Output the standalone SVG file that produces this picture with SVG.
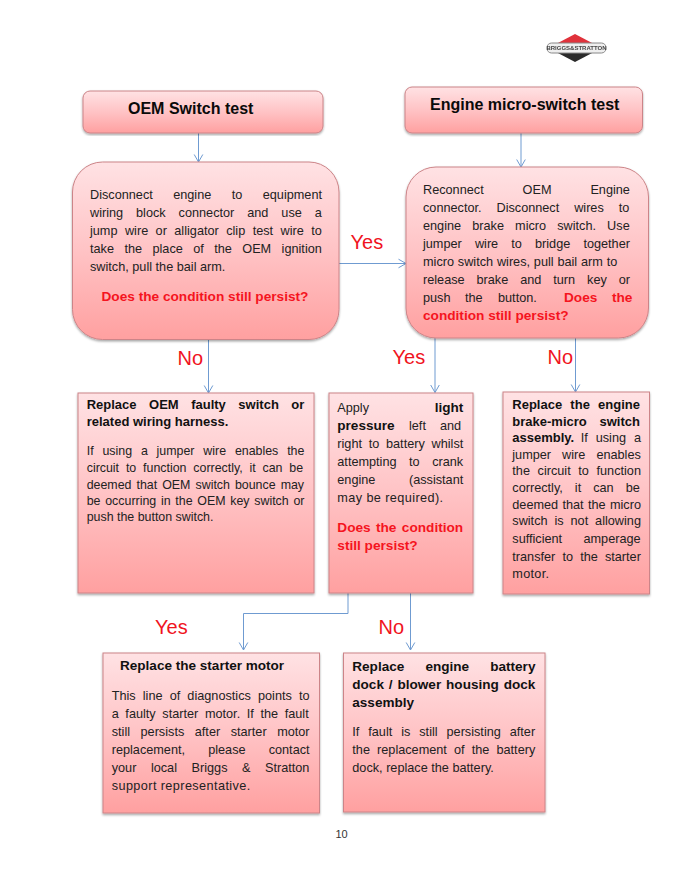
<svg xmlns="http://www.w3.org/2000/svg" width="685" height="892" viewBox="0 0 685 892">
<style>
text{font-family:"Liberation Sans",Arial,sans-serif;fill:#222;white-space:pre}
.r{font-size:12.7px}
.s{font-size:12.4px}
.b{font-size:13.55px;font-weight:bold;fill:#111}
.c{font-size:13px;font-weight:bold;fill:#111}
.q{font-size:13.65px;font-weight:bold;fill:#f5141e}
.h{font-size:16px;font-weight:bold;fill:#0a0a0a}
.l{font-size:20px;fill:#f0141e}
.box{fill:url(#g);stroke:#cc8488;stroke-width:1;filter:url(#sh)}
.con{fill:none;stroke:#6f9bd1;stroke-width:1}
.arr{marker-end:url(#a)}
</style>
<defs>
<linearGradient id="g" x1="0" y1="0" x2="0" y2="1"><stop offset="0" stop-color="#ffe2e4"/><stop offset="0.5" stop-color="#ffc3c5"/><stop offset="1" stop-color="#ffa0a0"/></linearGradient>
<filter id="sh" x="-5%" y="-5%" width="110%" height="112%"><feDropShadow dx="0" dy="1.5" stdDeviation="1.2" flood-color="#000" flood-opacity="0.35"/></filter>
<filter id="bl" x="-5%" y="-5%" width="110%" height="110%"><feGaussianBlur stdDeviation="0.5"/></filter>
<marker id="a" viewBox="-9 -5.5 10 11" refX="0" refY="0" markerWidth="10" markerHeight="11" markerUnits="userSpaceOnUse" orient="auto"><path d="M-7.5,-4.3 L0,0 L-7.5,4.3" fill="none" stroke="#6f9bd1" stroke-width="1"/></marker>
</defs>
<rect width="685" height="892" fill="#fff"/>
<g id="logo" filter="url(#bl)">
<polygon points="575,34 594,44 556,44" fill="#e0303a"/>
<polygon points="556,52 594,52 575,62" fill="#2a2a2a"/>
<rect x="547" y="43" width="59" height="10" rx="4.5" fill="#efefef" stroke="#888" stroke-width="1"/>
<text x="576.5" y="50.3" text-anchor="middle" style="font-size:6px;font-weight:bold;fill:#444">BRIGGS&amp;STRATTON</text>
</g>
<g id="connectors">
<path class="con arr" d="M198.5,133V162"/>
<path class="con arr" d="M521,133V167"/>
<path class="con arr" d="M339,263.5H406"/>
<path class="con arr" d="M208.5,339.5V393"/>
<path class="con arr" d="M435,338V392.5"/>
<path class="con arr" d="M575.5,338V392"/>
<path class="con arr" d="M348,593V613.5H243.5V650"/>
<path class="con arr" d="M410.5,593V650"/>
</g>
<g id="n-oem-header">
<rect class="box" x="83" y="91" width="240" height="42" rx="7"/>
<text class="h" x="128" y="113.5">OEM Switch test</text>
</g>
<g id="n-engine-header">
<rect class="box" x="405" y="87" width="237.5" height="46" rx="7"/>
<text class="h" x="430" y="110">Engine micro-switch test</text>
</g>
<g id="n-oem-test">
<rect class="box" x="72.5" y="162" width="266.5" height="177.5" rx="30"/>
<text class="r" x="90" y="198.7" word-spacing="16.9">Disconnect engine to equipment</text>
<text class="r" x="90" y="216.7" word-spacing="9.4">wiring block connector and use a</text>
<text class="r" x="90" y="234.7" word-spacing="3.9">jump wire or alligator clip test wire to</text>
<text class="r" x="90" y="252.7" word-spacing="6.9">take the place of the OEM ignition</text>
<text class="r" x="90" y="270.7">switch, pull the bail arm.</text>
<text class="q" x="101.5" y="300.7">Does the condition still persist?</text>
</g>
<g id="n-engine-test">
<rect class="box" x="406" y="167" width="242.5" height="171" rx="30"/>
<text class="r" x="423" y="193.7" word-spacing="35.4">Reconnect OEM Engine</text>
<text class="r" x="423" y="211.7" word-spacing="11.4">connector. Disconnect wires to</text>
<text class="r" x="423" y="229.7" word-spacing="7.6">engine brake micro switch. Use</text>
<text class="r" x="423" y="247.7" word-spacing="9.6">jumper wire to bridge together</text>
<text class="r" x="423" y="265.7" word-spacing="0.3">micro switch wires, pull bail arm to</text>
<text class="r" x="423" y="283.7" word-spacing="8.4">release brake and turn key or</text>
<text class="r" y="301.7"><tspan x="423">push</tspan> <tspan x="465">the</tspan> <tspan x="498">button.</tspan> <tspan class="q" x="564">Does</tspan> <tspan class="q" x="612">the</tspan></text>
<text class="q" x="423" y="319.7">condition still persist?</text>
</g>
<g id="n-replace-oem">
<rect class="box" x="78" y="393" width="236" height="200"/>
<text class="c" x="86.7" y="409" word-spacing="8.9">Replace OEM faulty switch or</text>
<text class="c" x="86.7" y="426">related wiring harness.</text>
<text class="s" x="86.7" y="455" word-spacing="5.4">If using a jumper wire enables the</text>
<text class="s" x="86.7" y="472" word-spacing="3.4">circuit to function correctly, it can be</text>
<text class="s" x="86.7" y="488.5" word-spacing="1.6">deemed that OEM switch bounce may</text>
<text class="s" x="86.7" y="504.5" word-spacing="1.3">be occurring in the OEM key switch or</text>
<text class="s" x="86.7" y="520.7">push the button switch.</text>
</g>
<g id="n-light-pressure">
<rect class="box" x="329" y="393" width="144" height="200"/>
<text class="r" y="411.7"><tspan x="337.3">Apply</tspan> <tspan class="b" x="434.7">light</tspan></text>
<text class="r" y="429.7"><tspan class="b" x="337.3">pressure</tspan> <tspan x="409">left</tspan> <tspan x="440">and</tspan></text>
<text class="r" x="337.3" y="447.7" word-spacing="3.2">right to battery whilst</text>
<text class="r" x="337.3" y="465.7" word-spacing="9">attempting to crank</text>
<text class="r" x="337.3" y="483.7" word-spacing="30">engine (assistant</text>
<text class="r" x="337.3" y="501.7" letter-spacing="0.4">may be required).</text>
<text class="q" x="337.3" y="531.7" word-spacing="1.55">Does the condition</text>
<text class="q" x="337.3" y="549.7">still persist?</text>
</g>
<g id="n-replace-brake">
<rect class="box" x="503" y="392" width="146.5" height="202"/>
<text class="c" x="512.3" y="409.3" word-spacing="4.6">Replace the engine</text>
<text class="c" x="512.3" y="425.5" word-spacing="9.2">brake-micro switch</text>
<text class="r" y="442.3"><tspan class="c" x="512.3">assembly.</tspan> <tspan x="580.7">If</tspan> <tspan x="595.7">using</tspan> <tspan x="634">a</tspan></text>
<text class="r" x="512.3" y="458.5" word-spacing="7.5">jumper wire enables</text>
<text class="r" x="512.3" y="475.3" word-spacing="4.1">the circuit to function</text>
<text class="r" x="512.3" y="492.3" word-spacing="8.5">correctly, it can be</text>
<text class="r" x="512.3" y="508.5" word-spacing="0.8">deemed that the micro</text>
<text class="r" x="512.3" y="525.3" word-spacing="3.4">switch is not allowing</text>
<text class="r" x="512.3" y="543.3" word-spacing="17.8">sufficient amperage</text>
<text class="r" x="512.3" y="560.7" word-spacing="3.6">transfer to the starter</text>
<text class="r" x="512.3" y="578.3" letter-spacing="0.3">motor.</text>
</g>
<g id="n-starter">
<rect class="box" x="103" y="653" width="216.5" height="160"/>
<text class="b" x="120" y="670.3">Replace the starter motor</text>
<text class="r" x="111.7" y="700.3" word-spacing="3.6">This line of diagnostics points to</text>
<text class="r" x="111.7" y="718.3" word-spacing="3.1">a faulty starter motor. If the fault</text>
<text class="r" x="111.7" y="736.3" word-spacing="7">still persists after starter motor</text>
<text class="r" x="111.7" y="754.3" word-spacing="19.6">replacement, please contact</text>
<text class="r" x="111.7" y="772.3" word-spacing="11">your local Briggs &amp; Stratton</text>
<text class="r" x="111.7" y="790.3" letter-spacing="0.4">support representative.</text>
</g>
<g id="n-dock">
<rect class="box" x="343.5" y="653" width="201.5" height="159"/>
<text class="b" x="352.3" y="671.3" word-spacing="17.4">Replace engine battery</text>
<text class="b" x="352.3" y="689.3" word-spacing="1.15">dock / blower housing dock</text>
<text class="b" x="352.3" y="707.3">assembly</text>
<text class="r" x="352.3" y="736.3" word-spacing="5.4">If fault is still persisting after</text>
<text class="r" x="352.3" y="754.3" word-spacing="3.6">the replacement of the battery</text>
<text class="r" x="352.3" y="772.3">dock, replace the battery.</text>
</g>
<g id="labels">
<text class="l" x="350.5" y="249">Yes</text>
<text class="l" x="177.5" y="365">No</text>
<text class="l" x="392.5" y="364">Yes</text>
<text class="l" x="547.5" y="364">No</text>
<text class="l" x="155" y="634">Yes</text>
<text class="l" x="378.5" y="634">No</text>
</g>
<text x="335.5" y="838" style="font-size:11px;fill:#333">10</text>
</svg>
